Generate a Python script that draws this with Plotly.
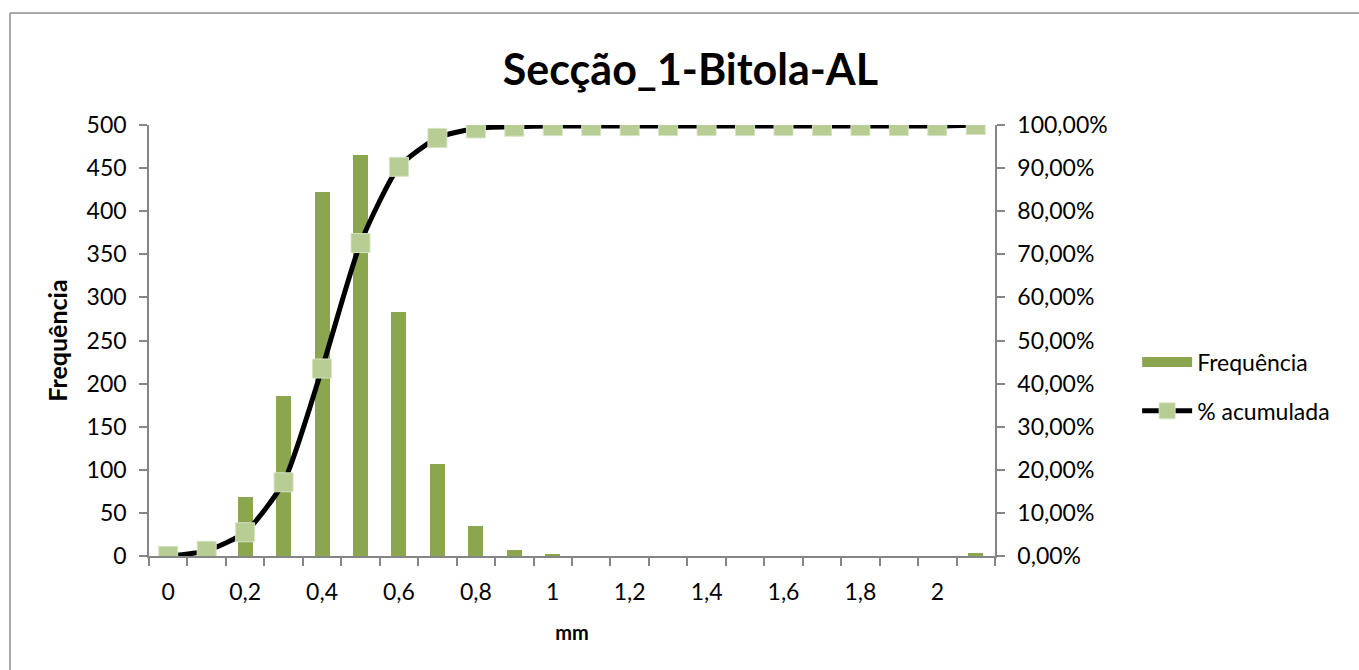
import plotly.graph_objects as go

categories = [0, 0.1, 0.2, 0.3, 0.4, 0.5, 0.6, 0.7, 0.8, 0.9, 1.0,
              1.1, 1.2, 1.3, 1.4, 1.5, 1.6, 1.7, 1.8, 1.9, 2.0, 2.1]
frequencia = [0, 17, 68, 186, 422, 465, 283, 107, 35, 7, 2,
              0, 0, 0, 0, 0, 0, 0, 0, 0, 0, 4]
acumulada = [0.0, 1.2, 5.5, 17.1, 43.5, 72.6, 90.3, 97.0, 99.2, 99.6, 99.75,
             99.75, 99.75, 99.75, 99.75, 99.75, 99.75, 99.75, 99.75, 99.75, 99.75, 100.0]
x_tick_vals = [0, 0.2, 0.4, 0.6, 0.8, 1.0, 1.2, 1.4, 1.6, 1.8, 2.0]
x_tick_text = ["0", "0,2", "0,4", "0,6", "0,8", "1", "1,2", "1,4", "1,6", "1,8", "2"]
y_tick_vals = [0, 50, 100, 150, 200, 250, 300, 350, 400, 450, 500]
y2_tick_vals = [0, 10, 20, 30, 40, 50, 60, 70, 80, 90, 100]
y2_tick_text = ["0,00%", "10,00%", "20,00%", "30,00%", "40,00%", "50,00%",
                "60,00%", "70,00%", "80,00%", "90,00%", "100,00%"]
minor_vals = [round(-0.05 + 0.1 * i, 3) for i in range(23)]

FONT = "Lato"
AXIS_COLOR = "#868686"
BAR_COLOR = "#8ba64f"

fig = go.Figure()
fig.add_trace(go.Bar(
    x=categories, y=frequencia, name="Frequência",
    marker=dict(color=BAR_COLOR, line=dict(width=0)),
    width=0.039, showlegend=False,
))
# legend entry for the bars, drawn as a wide rectangle like the original
fig.add_trace(go.Scatter(
    x=[None], y=[None], name="Frequência", mode="lines",
    line=dict(color=BAR_COLOR, width=14), legendgroup="a",
))
fig.add_trace(go.Scatter(
    x=categories, y=acumulada, name="% acumulada", yaxis="y2",
    mode="lines+markers", legendgroup="b",
    line=dict(color="black", width=5, shape="spline", smoothing=0.6),
    marker=dict(symbol="square", size=19, color="#b7cd94",
                line=dict(color="#d6e3c3", width=1)),
))

fig.update_layout(
    width=1359, height=670,
    paper_bgcolor="white", plot_bgcolor="white",
    margin=dict(l=149, r=364, t=125, b=114),
    font=dict(family=FONT, size=23, color="black"),
    title=dict(text="<b>Secção_1-Bitola-AL</b>", x=0.508, xanchor="center",
               y=0.895, yanchor="middle", font=dict(family=FONT, size=43)),
    bargap=0,
    showlegend=True,
    legend=dict(x=1.168, y=0.50, xanchor="left", yanchor="top",
                font=dict(family=FONT, size=23), traceorder="grouped",
                tracegroupgap=16, itemwidth=50, bgcolor="rgba(0,0,0,0)"),
    xaxis=dict(
        range=[-0.05, 2.15], tickvals=x_tick_vals, ticktext=x_tick_text,
        ticks="", showgrid=False, zeroline=False,
        showline=True, linecolor=AXIS_COLOR, linewidth=1.5,
        minor=dict(tickvals=minor_vals, ticks="outside", ticklen=8,
                   tickcolor=AXIS_COLOR, tickwidth=1.5, showgrid=False),
        title=dict(text="<b>mm</b>", font=dict(family=FONT, size=20), standoff=22),
        ticklabelstandoff=15,
    ),
    yaxis=dict(
        range=[0, 500], tickvals=y_tick_vals, ticks="outside", ticklen=8,
        tickcolor=AXIS_COLOR, tickwidth=1.5,
        showgrid=False, zeroline=False,
        showline=True, linecolor=AXIS_COLOR, linewidth=1.5,
        ticklabelstandoff=8,
        title=dict(text="<b>Frequência</b>", font=dict(family=FONT, size=25), standoff=12),
    ),
    yaxis2=dict(
        range=[0, 100], tickvals=y2_tick_vals, ticktext=y2_tick_text,
        overlaying="y", side="right", ticks="outside", ticklen=8,
        tickcolor=AXIS_COLOR, tickwidth=1.5,
        showgrid=False, zeroline=False,
        showline=True, linecolor=AXIS_COLOR, linewidth=1.5,
        ticklabelstandoff=8,
    ),
    shapes=[
        dict(type="line", xref="paper", yref="paper",
             x0=-139 / 846, x1=1.45, y0=(556 - 13) / 431, y1=(556 - 13) / 431,
             line=dict(color="#8c8c8c", width=1.5)),
        dict(type="line", xref="paper", yref="paper",
             x0=-139 / 846, x1=-139 / 846, y0=(556 - 13) / 431, y1=-0.3,
             line=dict(color="#8c8c8c", width=1.5)),
    ],
)

fig.write_html("out.html")
